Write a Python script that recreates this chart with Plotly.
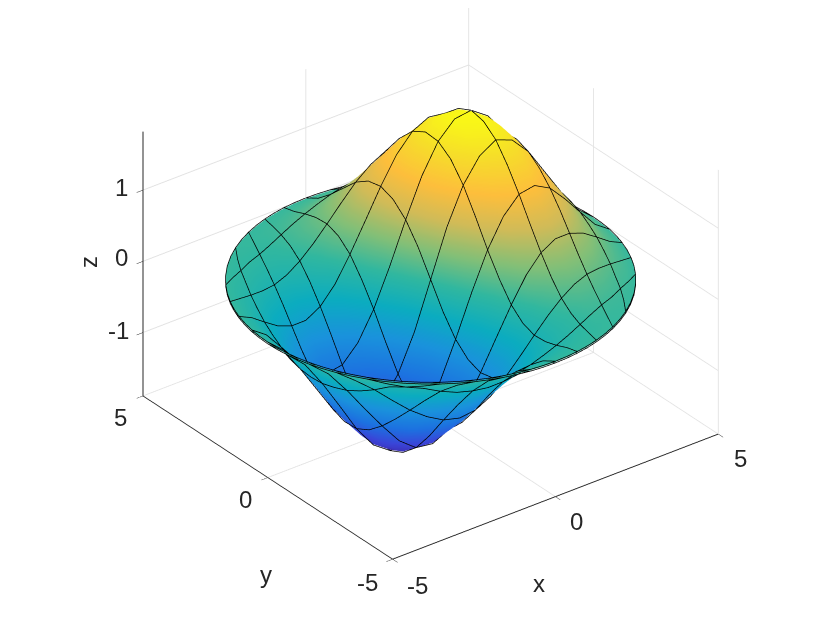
import numpy as np
import plotly.graph_objects as go

# surface heights, rows are v = -1 .. 1, columns u = -1 .. 1
grid_u = [-1.0, -0.9, -0.8, -0.7, -0.6, -0.5, -0.4, -0.3, -0.2, -0.1, 0.0,
          0.1, 0.2, 0.3, 0.4, 0.5, 0.6, 0.7, 0.8, 0.9, 1.0]
grid_v = list(grid_u)
heights = [
    [0] * 21,
    [0, -.04, -.08, -.11, -.12, -.14, -.14, -.14, -.13, -.12, -.11, -.09, -.07, -.05, -.03, -.01, 0, .01, .02, .01, 0],
    [0, -.08, -.15, -.20, -.28, -.34, -.37, -.38, -.36, -.33, -.28, -.22, -.16, -.10, -.04, .01, .04, .04, .05, .03, 0],
    [0, -.12, -.21, -.37, -.49, -.59, -.66, -.68, -.65, -.58, -.48, -.36, -.23, -.11, -.01, .07, .11, .11, .08, .06, 0],
    [0, -.15, -.32, -.52, -.71, -.86, -.97, -1.01, -.97, -.85, -.68, -.47, -.26, -.07, .08, .18, .22, .20, .15, .08, 0],
    [0, -.17, -.41, -.67, -.92, -1.15, -1.29, -1.33, -1.25, -1.07, -.81, -.51, -.21, .05, .25, .35, .37, .32, .22, .10, 0],
    [0, -.19, -.48, -.80, -1.11, -1.39, -1.56, -1.58, -1.46, -1.21, -.85, -.45, -.07, .26, .48, .58, .56, .46, .30, .13, 0],
    [0, -.20, -.52, -.89, -1.26, -1.57, -1.73, -1.74, -1.56, -1.22, -.78, -.29, .17, .53, .76, .84, .77, .59, .37, .15, 0],
    [0, -.21, -.55, -.94, -1.34, -1.65, -1.81, -1.77, -1.54, -1.14, -.61, -.04, .47, .85, 1.07, 1.10, .97, .72, .44, .17, 0],
    [0, -.21, -.55, -.94, -1.34, -1.63, -1.76, -1.67, -1.40, -.94, -.34, .29, .82, 1.18, 1.36, 1.34, 1.14, .82, .49, .19, 0],
    [0, -.20, -.53, -.90, -1.27, -1.52, -1.61, -1.47, -1.15, -.65, 0, .65, 1.15, 1.47, 1.61, 1.52, 1.27, .90, .53, .20, 0],
    [0, -.19, -.49, -.82, -1.14, -1.34, -1.36, -1.18, -.82, -.29, .34, .94, 1.40, 1.67, 1.76, 1.63, 1.34, .94, .55, .21, 0],
    [0, -.17, -.44, -.72, -.97, -1.10, -1.07, -.85, -.47, .04, .61, 1.14, 1.54, 1.77, 1.81, 1.65, 1.34, .94, .55, .21, 0],
    [0, -.15, -.37, -.59, -.77, -.84, -.76, -.53, -.17, .29, .78, 1.22, 1.56, 1.74, 1.73, 1.57, 1.26, .89, .52, .20, 0],
    [0, -.13, -.30, -.46, -.56, -.58, -.48, -.26, .07, .45, .85, 1.21, 1.46, 1.58, 1.56, 1.39, 1.11, .80, .48, .19, 0],
    [0, -.10, -.22, -.32, -.37, -.35, -.25, -.05, .21, .51, .81, 1.07, 1.25, 1.33, 1.29, 1.15, .92, .67, .41, .17, 0],
    [0, -.08, -.15, -.20, -.22, -.18, -.08, .07, .26, .47, .68, .85, .97, 1.01, .97, .86, .71, .52, .32, .15, 0],
    [0, -.06, -.08, -.11, -.11, -.07, .01, .11, .23, .36, .48, .58, .65, .68, .66, .59, .49, .37, .21, .12, 0],
    [0, -.03, -.05, -.04, -.04, -.01, .04, .10, .16, .22, .28, .33, .36, .38, .37, .34, .28, .20, .15, .08, 0],
    [0, -.01, -.02, -.01, 0, .01, .03, .05, .07, .09, .11, .12, .13, .14, .14, .14, .12, .11, .08, .04, 0],
    [0] * 21,
]
axis_ticks = [-5, 0, 5]
z_ticks = [-1, 0, 1]
x_labels = ['-5', '0', '5']
y_labels = ['-5', '0', '5']
z_labels = ['-1', '0', '1']
parula = [[0.0, '#3e26a8'], [0.1, '#3a45d8'], [0.2, '#1c72e0'], [0.3, '#1a92dc'], [0.4, '#0bacc0'],
          [0.5, '#30b7a0'], [0.6, '#81bf78'], [0.7, '#d0bb58'], [0.8, '#fdbe3c'], [0.9, '#f6dd2a'],
          [1.0, '#f9fb15']]

# square grid pulled onto the disc of radius 5
uu, vv = np.meshgrid(grid_u, grid_v)
xx = 5 * uu * np.sqrt(1 - vv ** 2 / 2)
yy = 5 * vv * np.sqrt(1 - uu ** 2 / 2)
zz = np.array(heights, dtype=float)

fig = go.Figure()
fig.add_surface(x=xx, y=yy, z=zz, colorscale=parula, cmin=-1.89, cmax=1.82, showscale=False,
                lighting=dict(ambient=1, diffuse=0, specular=0, roughness=1, fresnel=0),
                hoverinfo='skip')

# black mesh, every second grid line, drawn just above and just below the sheet so both sides show
for lift in [0.012, -0.012]:
    line_x, line_y, line_z = [], [], []
    for i in range(0, 21, 2):
        line_x += list(xx[i, :]) + [None]
        line_y += list(yy[i, :]) + [None]
        line_z += list(zz[i, :] + lift) + [None]
        line_x += list(xx[:, i]) + [None]
        line_y += list(yy[:, i]) + [None]
        line_z += list(zz[:, i] + lift) + [None]
    fig.add_scatter3d(x=line_x, y=line_y, z=line_z, mode='lines',
                      line=dict(color='black', width=1.5), hoverinfo='skip', showlegend=False)

axis_style = dict(showbackground=False, showspikes=False, zeroline=False, showline=True,
                  linecolor='#262626', linewidth=2, gridcolor='#e2e2e2', gridwidth=2,
                  ticks='outside', ticklen=8, tickcolor='#262626', showticklabels=False,
                  title_text='')

# labels placed by hand on the page
def add_text(text, px, py, angle=0):
    fig.add_annotation(text=text, x=px / 830, y=1 - py / 626, xref='paper', yref='paper',
                       xanchor='center', yanchor='middle', showarrow=False, textangle=angle,
                       font=dict(family='Liberation Sans', size=24, color='#262626'))

for label, px, py in zip(z_labels, [110, 113, 113], [322, 250, 179]):
    add_text(label, px, py)
for label, px, py in zip(y_labels, [359, 237, 112], [574, 491, 409]):
    add_text(label, px, py)
for label, px, py in zip(x_labels, [409, 568, 732], [577, 513, 450]):
    add_text(label, px, py)
add_text('x', 531, 575)
add_text('y', 258, 566)
add_text('z', 80, 254, angle=-90)

fig.update_layout(
    width=830, height=626,
    margin=dict(l=0, r=0, t=0, b=0),
    paper_bgcolor='white',
    showlegend=False,
    scene=dict(
        domain=dict(x=[0, 1], y=[0, 1]),
        xaxis=dict(range=[-5, 5], tickvals=axis_ticks, **axis_style),
        yaxis=dict(range=[-5, 5], tickvals=axis_ticks, **axis_style),
        zaxis=dict(range=[-1.89, 1.82], tickvals=z_ticks, **axis_style),
        aspectmode='manual',
        aspectratio=dict(x=1.311, y=1.311, z=0.9756),
        camera=dict(eye=dict(x=-1.1069, y=-1.4041, z=0.895),
                    up=dict(x=0, y=0, z=1),
                    center=dict(x=-0.0569, y=-0.0341, z=-0.1050),
                    projection=dict(type='orthographic')),
    ),
)

fig.write_html("out.html")
